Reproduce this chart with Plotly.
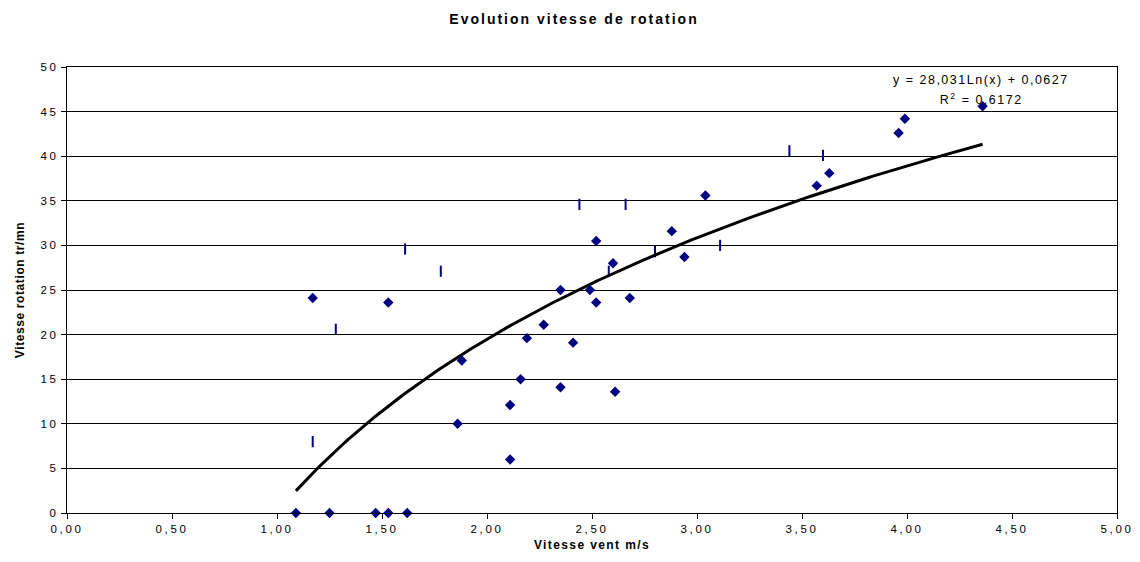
import numpy as np
import plotly.graph_objects as go

# Diamond series (measured points)
wind_speed = [1.09, 1.25, 1.47, 1.53, 1.62, 1.17, 1.53, 1.86, 1.88, 2.11, 2.11, 2.16,
              2.19, 2.27, 2.35, 2.35, 2.41, 2.49, 2.52, 2.52, 2.60, 2.61, 2.68, 2.88,
              2.94, 3.04, 3.57, 3.63, 3.96, 3.99, 4.36]
rotation = [0, 0, 0, 0, 0, 24.1, 23.6, 10.0, 17.1, 6.0, 12.1, 15.0,
            19.6, 21.1, 14.1, 25.0, 19.1, 25.0, 23.6, 30.5, 28.0, 13.6, 24.1, 31.6,
            28.7, 35.6, 36.7, 38.1, 42.6, 44.2, 45.6]

# Dash series
wind_speed_2 = [1.17, 1.28, 1.61, 1.78, 2.44, 2.58, 2.66, 2.80, 3.11, 3.44, 3.60]
rotation_2 = [8.0, 20.6, 29.6, 27.1, 34.6, 27.1, 34.6, 29.3, 30.0, 40.6, 40.1]

# Logarithmic trendline coefficients (as displayed)
TREND_A = 28.031
TREND_B = 0.0627
R2 = 0.6172

x_ticks = [0, 0.5, 1, 1.5, 2, 2.5, 3, 3.5, 4, 4.5, 5]
y_ticks = list(range(0, 55, 5))

trend_x = np.linspace(min(wind_speed), max(wind_speed), 200)
trend_y = TREND_A * np.log(trend_x) + TREND_B

FONT = "Liberation Sans, Arial, sans-serif"
NAVY = "#000080"

fig = go.Figure()
fig.add_trace(go.Scatter(x=wind_speed_2, y=rotation_2, mode="markers",
                         marker=dict(symbol="line-ns", size=8,
                                     line=dict(color=NAVY, width=2)),
                         showlegend=False, cliponaxis=False))
fig.add_trace(go.Scatter(x=trend_x, y=trend_y, mode="lines",
                         line=dict(color="black", width=3),
                         showlegend=False))
fig.add_trace(go.Scatter(x=wind_speed, y=rotation, mode="markers",
                         marker=dict(symbol="diamond", size=8, color=NAVY),
                         showlegend=False, cliponaxis=False))

fig.update_layout(
    width=1132, height=554,
    margin=dict(l=58, r=18, t=59, b=49),
    paper_bgcolor="white", plot_bgcolor="white",
    separators=", ",
    font=dict(family=FONT, size=11.5, color="black"),
    title=dict(text="<b>Evolution vitesse de rotation</b>", x=0.5, xanchor="center",
               y=0.980, yanchor="middle", font=dict(size=14, family=FONT)),
    xaxis=dict(range=[0, 5], tickvals=x_ticks, tickformat=".2f",
               showgrid=False, zeroline=False,
               showline=True, linecolor="black", linewidth=1, mirror=True,
               ticks="outside", ticklen=5, tickcolor="black",
               title=dict(text="<b>Vitesse vent m/s</b>", standoff=6,
                          font=dict(size=12))),
    yaxis=dict(range=[0, 50], tickvals=y_ticks,
               showgrid=True, gridcolor="black", gridwidth=1, zeroline=False,
               showline=True, linecolor="black", linewidth=1, mirror=True,
               ticks="outside", ticklen=5, tickcolor="black",
               title=dict(text="<b>Vitesse rotation tr/mn</b>", standoff=18,
                          font=dict(size=12))),
    annotations=[
        dict(text="y = 28,031Ln(x) + 0,0627", x=4.35, y=48.5, xref="x", yref="y",
             showarrow=False, xanchor="center", font=dict(size=12.5)),
        dict(text="R<sup>2</sup> = 0,6172", x=4.35, y=46.4, xref="x", yref="y",
             showarrow=False, xanchor="center", font=dict(size=12.5)),
    ],
)

POST = """
var gd = document.getElementById('{plot_id}');
function ls(sel, v){ gd.querySelectorAll(sel).forEach(function(t){ t.style.letterSpacing = v; }); }
ls('.xtick text', '2.7px');
ls('.ytick text', '2.7px');
ls('.gtitle', '2px');
ls('.xtitle', '1.4px');
ls('.ytitle', '0.6px');
ls('.annotation-text', '1.5px');
"""

fig.write_html("out.html", post_script=POST)
